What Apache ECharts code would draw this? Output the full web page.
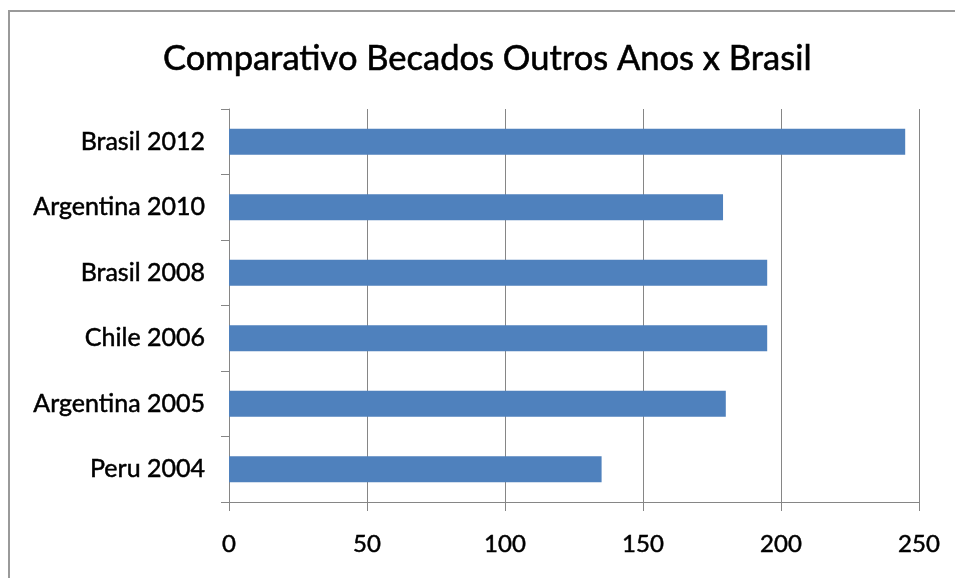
<!DOCTYPE html>
<html>
<head>
<meta charset="utf-8">
<script src="https://cdn.jsdelivr.net/npm/echarts@6/dist/echarts.min.js"></script>
<style>
html,body{margin:0;padding:0;background:#fff;}
#chart{width:955px;height:578px;}
</style>
</head>
<body>
<div id="chart"></div>
<script>
const titleText = 'Comparativo Becados Outros Anos x Brasil';
const categories = ['Peru 2004', 'Argentina 2005', 'Chile 2006', 'Brasil 2008', 'Argentina 2010', 'Brasil 2012'];
const values = [135, 180, 195, 195, 179, 245];
const xTicks = [0, 50, 100, 150, 200, 250];

const chart = echarts.init(document.getElementById('chart'), null, {renderer: 'canvas'});
const font = 'Lato';
chart.setOption({
  animation: false,
  backgroundColor: '#fff',
  graphic: [{
    type: 'rect',
    shape: {x: 9, y: 11, width: 970, height: 600},
    style: {fill: 'none', stroke: '#9a9a9a', lineWidth: 2},
    silent: true
  }],
  title: {
    text: titleText,
    left: 158,
    top: 36,
    padding: 5,
    textStyle: {fontFamily: font, fontSize: 34.5, fontWeight: 'normal', color: '#000',
      textBorderColor: '#000', textBorderWidth: 0.6}
  },
  grid: {left: 229, right: 36, top: 109, bottom: 76, containLabel: false},
  xAxis: {
    type: 'value',
    min: xTicks[0],
    max: xTicks[xTicks.length - 1],
    interval: xTicks[1] - xTicks[0],
    axisLine: {show: true, lineStyle: {color: '#868686', width: 1}},
    axisTick: {show: true, length: 9, lineStyle: {color: '#868686'}},
    splitLine: {show: true, lineStyle: {color: '#868686', width: 1}},
    axisLabel: {fontFamily: font, fontSize: 24, color: '#000', margin: 30,
      textBorderColor: '#000', textBorderWidth: 0.5}
  },
  yAxis: {
    type: 'category',
    data: categories,
    axisLine: {show: true, lineStyle: {color: '#868686', width: 1}},
    axisTick: {show: true, length: 8, alignWithLabel: false, lineStyle: {color: '#868686'}},
    axisLabel: {fontFamily: font, fontSize: 25, color: '#000', margin: 24,
      textBorderColor: '#000', textBorderWidth: 0.5}
  },
  series: [{
    type: 'bar',
    data: values,
    barCategoryGap: '60%',
    itemStyle: {color: '#4f81bd'}
  }]
});
</script>
</body>
</html>
